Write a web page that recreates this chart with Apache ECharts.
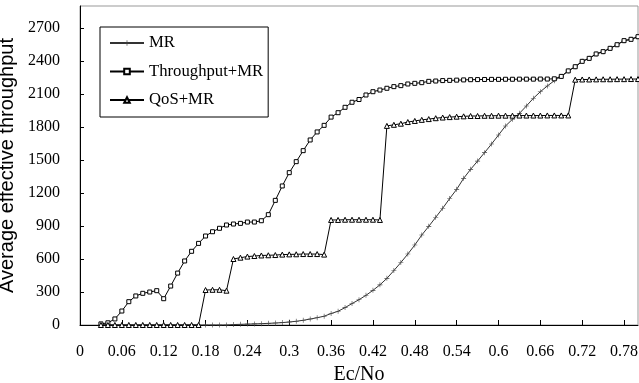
<!DOCTYPE html>
<html>
<head>
<meta charset="utf-8">
<script src="https://cdn.jsdelivr.net/npm/echarts@6/dist/echarts.min.js"></script>
<style>
  html, body { margin: 0; padding: 0; background: #fff; }
  #chart { width: 639px; height: 383px; }
</style>
</head>
<body>
<div id="chart"></div>
<script>
// Ec/No sample points
const ecno = [
  0.03, 0.04, 0.05, 0.06, 0.07, 0.08, 0.09, 0.10, 0.11, 0.12,
  0.13, 0.14, 0.15, 0.16, 0.17, 0.18, 0.19, 0.20, 0.21, 0.22,
  0.23, 0.24, 0.25, 0.26, 0.27, 0.28, 0.29, 0.30, 0.31, 0.32,
  0.33, 0.34, 0.35, 0.36, 0.37, 0.38, 0.39, 0.40, 0.41, 0.42,
  0.43, 0.44, 0.45, 0.46, 0.47, 0.48, 0.49, 0.50, 0.51, 0.52,
  0.53, 0.54, 0.55, 0.56, 0.57, 0.58, 0.59, 0.60, 0.61, 0.62,
  0.63, 0.64, 0.65, 0.66, 0.67, 0.68, 0.69, 0.70, 0.71, 0.72,
  0.73, 0.74, 0.75, 0.76, 0.77, 0.78, 0.79, 0.80
];

// MR
const mr = [
  0, 0, 0, 0, 0, 0, 0, 0, 0, 0,
  0, 0, 0, 0, 0, 0, 0, 0, 0, 4,
  6, 8, 10, 12, 15, 18, 22, 27, 34, 43,
  54, 66, 80, 104, 125, 158, 195, 230, 270, 315,
  365, 424, 495, 568, 645, 727, 818, 897, 979, 1061,
  1150, 1233, 1333, 1415, 1490, 1567, 1645, 1727, 1809, 1870,
  1924, 1991, 2061, 2121, 2173, 2221, 2260, 2310, 2348, 2397,
  2424, 2464, 2485, 2515, 2548, 2585, 2597, 2621
];

// Throughput+MR
const throughputMr = [
  10, 20, 55, 127, 212, 264, 288, 300, 312, 239,
  354, 472, 582, 670, 742, 809, 848, 879, 909, 918,
  924, 936, 936, 948, 1003, 1133, 1264, 1385, 1485, 1585,
  1682, 1755, 1815, 1890, 1930, 1979, 2025, 2050, 2091, 2121,
  2136, 2152, 2167, 2176, 2191, 2197, 2203, 2215, 2218, 2222,
  2224, 2226, 2228, 2230, 2231, 2232, 2233, 2233, 2234, 2234,
  2235, 2235, 2235, 2236, 2236, 2238, 2260, 2310, 2348, 2397,
  2424, 2464, 2485, 2515, 2548, 2585, 2597, 2621
];

// QoS+MR
const qosMr = [
  0, 0, 0, 0, 0, 0, 0, 0, 0, 0,
  0, 0, 0, 0, 0, 318, 320, 320, 312, 600,
  612, 622, 627, 632, 634, 636, 640, 642, 643, 645,
  645, 645, 640, 955, 955, 957, 957, 957, 957, 957,
  955, 1810, 1820, 1830, 1845, 1855, 1865, 1872, 1880, 1886,
  1890, 1894, 1897, 1900, 1900, 1902, 1902, 1903, 1903, 1903,
  1904, 1904, 1904, 1904, 1905, 1905, 1905, 1905, 2230, 2232,
  2232, 2233, 2234, 2234, 2235, 2235, 2236, 2236
];

const pairs = arr => ecno.map((x, i) => [x, arr[i]]);

const serif = '"Liberation Serif", "Times New Roman", serif';
const sans = '"Liberation Sans", Arial, sans-serif';
const plusIcon = 'path://M4.4,0h1.2v4.4h4.4v1.2h-4.4v4.4h-1.2v-4.4h-4.4v-1.2h4.4z';

const chart = echarts.init(document.getElementById('chart'));

chart.setOption({
  animation: false,
  backgroundColor: '#fff',
  grid: {
    left: 80,
    right: 1,
    top: 6,
    bottom: 58,
    outerBoundsMode: 'none',
    containLabel: false,
    show: true,
    borderColor: '#999',
    borderWidth: 1
  },
  legend: {
    orient: 'vertical',
    left: 100,
    top: 27,
    padding: [7, 5, 8, 9],
    itemGap: 10.5,
    itemWidth: 34,
    itemHeight: 7,
    borderColor: '#000',
    borderWidth: 1,
    borderRadius: 0,
    backgroundColor: '#fff',
    textStyle: { fontFamily: serif, fontSize: 16.7, color: '#000', lineHeight: 18 },
    data: ['MR', 'Throughput+MR', 'QoS+MR']
  },
  xAxis: {
    type: 'value',
    min: 0,
    max: 0.8,
    interval: 0.06,
    name: 'Ec/No',
    nameLocation: 'middle',
    nameGap: 37,
    nameTextStyle: { fontFamily: serif, fontSize: 20, color: '#000' },
    axisLine: { lineStyle: { color: '#000', width: 1 } },
    axisTick: { inside: true, length: 5, lineStyle: { color: '#000' } },
    axisLabel: {
      margin: 19,
      showMaxLabel: false,
      fontFamily: serif,
      fontSize: 16,
      color: '#000',
      formatter: v => String(Math.round(v * 100) / 100)
    },
    splitLine: { show: false }
  },
  yAxis: {
    type: 'value',
    min: 0,
    max: 2900,
    interval: 300,
    name: 'Average effective throughput',
    nameLocation: 'middle',
    nameGap: 59,
    nameTextStyle: { fontFamily: sans, fontSize: 20, color: '#000' },
    axisLine: { show: true, lineStyle: { color: '#000', width: 1 } },
    axisTick: { show: true, inside: true, length: 4, lineStyle: { color: '#000' } },
    axisLabel: {
      margin: 20,
      showMaxLabel: false,
      fontFamily: serif,
      fontSize: 16,
      color: '#000',
      formatter: v => String(v)
    },
    splitLine: { show: false }
  },
  series: [
    {
      name: 'MR',
      type: 'line',
      data: pairs(mr),
      showAllSymbol: true,
      symbol: plusIcon,
      symbolSize: 5,
      lineStyle: { color: '#333', width: 1 },
      itemStyle: { color: '#444' }
    },
    {
      name: 'Throughput+MR',
      type: 'line',
      data: pairs(throughputMr),
      showAllSymbol: true,
      symbol: 'rect',
      symbolSize: 4,
      lineStyle: { color: '#000', width: 1 },
      itemStyle: { color: '#fff', borderColor: '#000', borderWidth: 1 }
    },
    {
      name: 'QoS+MR',
      type: 'line',
      data: pairs(qosMr),
      showAllSymbol: true,
      symbol: 'triangle',
      symbolSize: 5,
      lineStyle: { color: '#000', width: 1 },
      itemStyle: { color: '#fff', borderColor: '#000', borderWidth: 1 }
    }
  ]
});
</script>
</body>
</html>
